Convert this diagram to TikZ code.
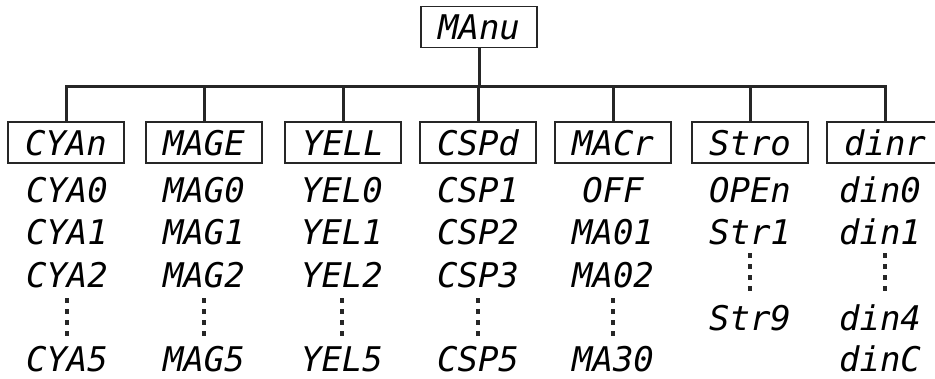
\documentclass[tikz,border=0pt]{standalone}
\usepackage{fontspec}
\newfontfamily\segfont{DejaVu Sans Mono}
\usetikzlibrary{positioning}
\tikzstyle{afficheur}=[
        draw=black!85,
        line width=1.6pt,
        minimum width=116pt,
        minimum height=41pt,
        inner sep=0pt,
        text height=25pt,
        text depth=0pt,
        font=\segfont\itshape\fontsize{34}{34}\selectfont
]
\tikzstyle{valeur}=[inner sep=0pt,text height=25pt,text depth=0pt,
        font=\segfont\itshape\fontsize{34}{34}\selectfont]
\tikzstyle{branche}=[line width=3pt,draw=black!85,line join=miter]
\tikzstyle{pointille}=[line width=3.2pt,draw=black!85,dash pattern=on 5pt off 6pt,
        shorten <=23pt,shorten >=23pt]

\begin{document}
\begin{tikzpicture}[x=1pt,y=1pt]
\useasboundingbox (0,0) rectangle (935,-378);
\node[afficheur] (menu) at (479,-27) {MAnu};
\coordinate (bus) at (0,-86);
\node[afficheur] (cyan) at (66,-142.5) {CYAn};
\node[afficheur] (mage) at (204,-142.5) {MAGE};
\node[afficheur] (yell) at (343,-142.5) {YELL};
\node[afficheur] (cspd) at (478,-142.5) {CSPd};
\node[afficheur] (macr) at (613,-142.5) {MACr};
\node[afficheur] (stro) at (750,-142.5) {Stro};
\node[afficheur] (dinr) at (885,-142.5) {dinr};
% cyan
\node[valeur] (cya0) at (67,-190) {CYA0};
\node[valeur] (cya1) at (67,-232) {CYA1};
\node[valeur] (cya2) at (67,-275) {CYA2};
\node[valeur] (cya5) at (67,-359) {CYA5};
% magenta
\node[valeur] (mag0) at (204,-190) {MAG0};
\node[valeur] (mag1) at (204,-232) {MAG1};
\node[valeur] (mag2) at (204,-275) {MAG2};
\node[valeur] (mag5) at (204,-359) {MAG5};
% jaune
\node[valeur] (yel0) at (342,-190) {YEL0};
\node[valeur] (yel1) at (342,-232) {YEL1};
\node[valeur] (yel2) at (342,-275) {YEL2};
\node[valeur] (yel5) at (342,-359) {YEL5};
% vitesse
\node[valeur] (csp1) at (478,-190) {CSP1};
\node[valeur] (csp2) at (478,-232) {CSP2};
\node[valeur] (csp3) at (478,-275) {CSP3};
\node[valeur] (csp5) at (478,-359) {CSP5};
% macro
\node[valeur] (off) at (613,-190) {OFF};
\node[valeur] (ma01) at (613,-232) {MA01};
\node[valeur] (ma02) at (613,-275) {MA02};
\node[valeur] (ma30) at (613,-359) {MA30};
% strobe
\node[valeur] (open) at (750,-190) {OPEn};
\node[valeur] (str1) at (750,-232) {Str1};
\node[valeur] (str9) at (750,-318) {Str9};
% dimmer
\node[valeur] (din0) at (880,-190) {din0};
\node[valeur] (din1) at (880,-232) {din1};
\node[valeur] (din4) at (880,-318) {din4};
\node[valeur] (dinc) at (880,-359) {dinC};
%Drawing Edges
\draw[branche] (menu.south) -- (menu |- bus);
\draw[branche] (cyan.north) |- (bus -| dinr) -- (dinr.north);
\foreach \n in {mage,yell,cspd,macr,stro}
  \draw[branche] (bus -| \n) -- (\n.north);
\draw[pointille] (cya2.center) -- (cya5.center);
\draw[pointille] (mag2.center) -- (mag5.center);
\draw[pointille] (yel2.center) -- (yel5.center);
\draw[pointille] (csp3.center) -- (csp5.center);
\draw[pointille] (ma02.center) -- (ma30.center);
\draw[pointille,shorten <=21pt,shorten >=26pt] (str1.center -| stro) -- (str9.center -| stro);
\draw[pointille,shorten <=21pt,shorten >=26pt] (din1.center -| dinr) -- (din4.center -| dinr);
\end{tikzpicture}
\end{document}
